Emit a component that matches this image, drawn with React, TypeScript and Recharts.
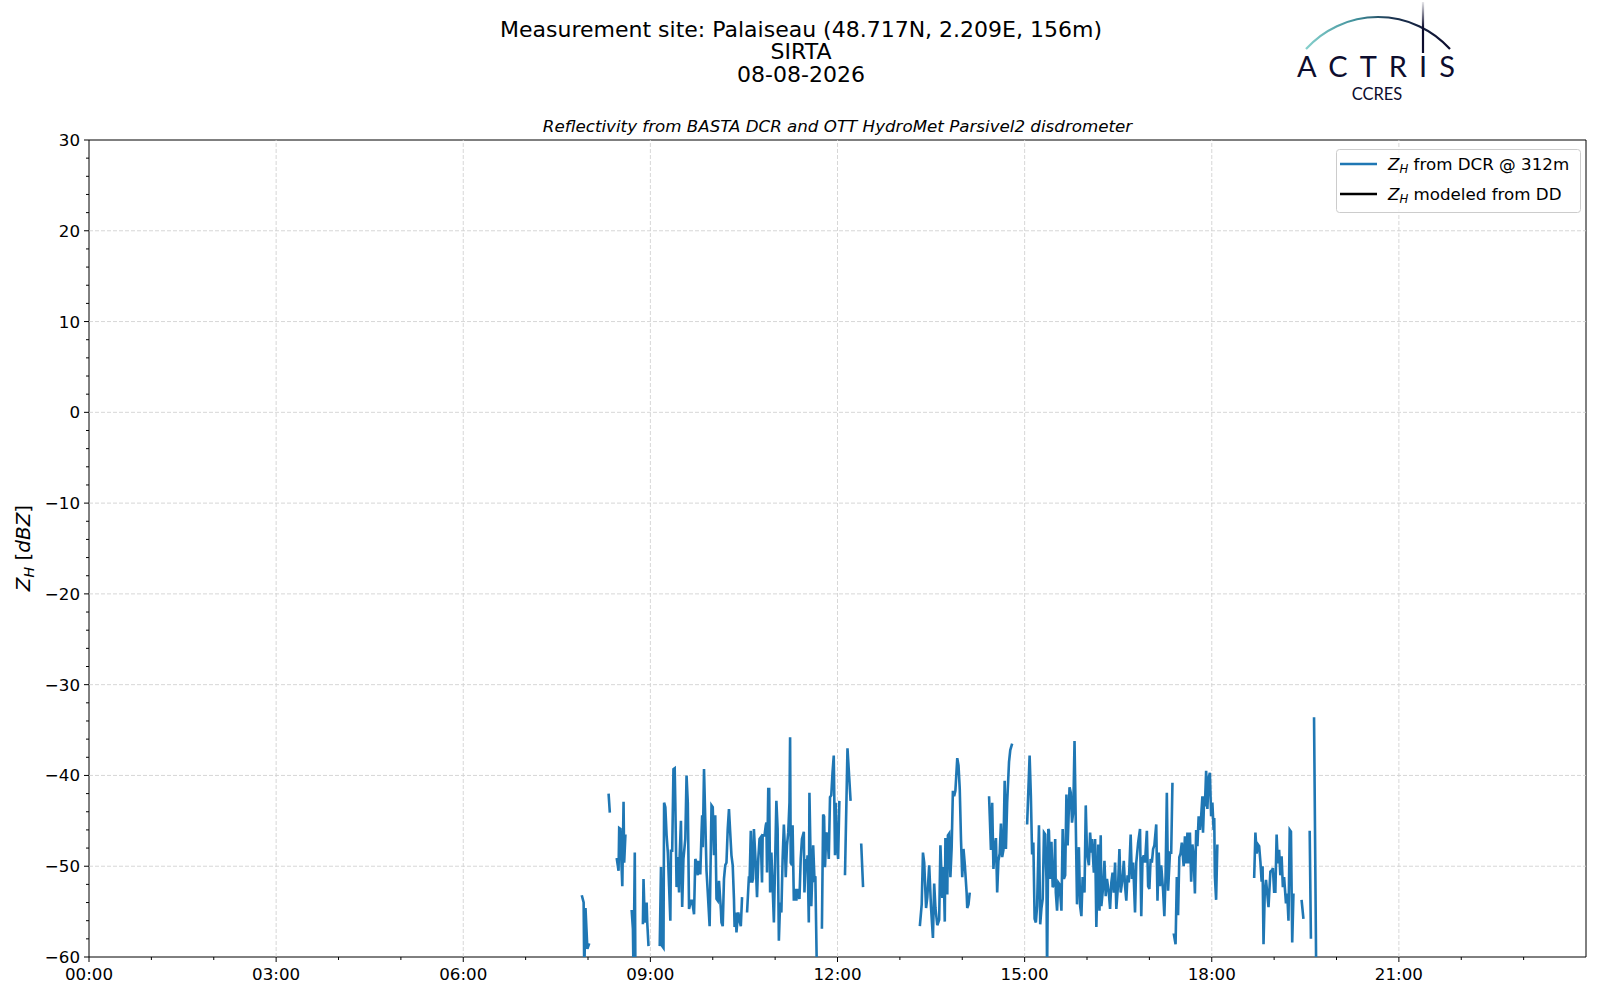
import React from "react";
import { LineChart, Line, XAxis, YAxis, ReferenceLine, ReferenceArea } from "recharts";

// reflectivity at 312 m, [hour of day, dBZ]; each array is one unbroken stretch
type Pt = [number, number];

const seg0754: Pt[] = [[7.90, -53.2], [7.93, -54.0], [7.94, -62], [7.96, -54.6], [7.99, -59.1], [8.02, -58.5]];
const seg0820: Pt[] = [[8.33, -42.0], [8.35, -44.1]];
const seg0828: Pt[] = [
  [8.46, -49.1], [8.49, -50.5], [8.5, -45.8], [8.52, -45.9], [8.53, -48.5], [8.55, -52.2],
  [8.57, -42.9], [8.58, -49.6], [8.6, -46.5],
];
const seg0842: Pt[] = [[8.7, -54.8], [8.72, -56.9], [8.73, -62], [8.75, -48.5], [8.76, -62]];
const seg0852: Pt[] = [[8.88, -56.4], [8.89, -51.4], [8.91, -56.2], [8.94, -54.0], [8.95, -56.2], [8.97, -58.8]];
const seg0909: Pt[] = [
  [9.15, -58.8], [9.17, -50.1], [9.19, -58.8], [9.21, -59.0], [9.22, -43.0], [9.24, -43.5],
  [9.26, -46.6], [9.28, -48.5], [9.3, -52.2], [9.32, -56.0], [9.33, -48.3], [9.35, -48.3],
  [9.37, -39.3], [9.39, -39.2], [9.4, -43.0], [9.42, -52.3], [9.44, -49.0], [9.46, -52.9],
  [9.47, -48.8], [9.49, -45.0], [9.51, -54.5], [9.53, -49.2], [9.56, -47.0], [9.58, -40.0],
  [9.6, -43.0], [9.62, -54.7], [9.65, -53.8], [9.67, -53.8], [9.7, -55.3], [9.72, -49.2],
  [9.74, -49.6], [9.76, -51.0], [9.77, -49.4], [9.8, -50.9], [9.82, -46.3], [9.83, -44.4],
  [9.84, -47.9], [9.86, -39.3], [9.88, -44.8], [9.9, -50.5], [9.92, -52.9], [9.95, -56.6],
  [9.98, -43.3], [10.0, -43.5], [10.02, -48.8], [10.04, -44.4], [10.06, -53.6], [10.08, -53.8],
  [10.1, -51.6], [10.13, -54.7], [10.14, -56.2], [10.16, -56.6], [10.18, -51.4], [10.2, -49.9],
  [10.22, -49.6], [10.24, -45.9], [10.26, -43.7], [10.28, -46.3], [10.3, -48.8], [10.32, -49.9],
  [10.34, -53.6], [10.35, -56.7], [10.37, -55.1], [10.38, -57.3], [10.4, -55.6], [10.41, -55.1],
  [10.43, -56.0], [10.45, -56.6], [10.47, -53.4],
];
const seg1033: Pt[] = [
  [10.55, -55.1], [10.58, -51.1], [10.59, -51.8], [10.61, -46.1], [10.63, -51.8], [10.645, -51.4],
  [10.66, -45.9], [10.69, -49.9], [10.71, -53.4], [10.73, -49.2], [10.75, -47.0], [10.77, -46.8],
  [10.79, -51.8], [10.8, -46.6], [10.83, -46.6], [10.85, -45.5], [10.86, -45.2], [10.87, -50.7],
  [10.89, -41.5], [10.905, -41.5], [10.92, -52.9], [10.94, -48.5], [10.96, -52.2], [10.98, -56.2],
  [11.02, -42.8], [11.04, -45.9], [11.06, -58.2], [11.08, -54.0], [11.1, -55.1], [11.12, -49.2],
  [11.14, -45.4], [11.16, -48.5], [11.17, -51.2], [11.19, -47.7], [11.21, -46.3], [11.23, -43.0],
  [11.24, -35.8], [11.25, -49.6], [11.27, -49.9], [11.28, -45.5], [11.3, -53.8], [11.32, -52.5],
  [11.34, -53.8], [11.36, -52.5], [11.39, -53.6], [11.41, -49.2], [11.43, -47.0], [11.46, -46.2],
  [11.47, -52.9], [11.49, -49.2], [11.51, -49.9], [11.52, -48.8], [11.54, -56.2], [11.55, -41.9],
  [11.57, -49.6], [11.58, -54.4], [11.61, -47.7], [11.63, -51.3], [11.645, -51.1], [11.67, -62],
];
const seg1145: Pt[] = [
  [11.75, -56.9], [11.77, -44.3], [11.785, -44.5], [11.8, -50.1], [11.82, -46.3], [11.84, -46.6],
  [11.86, -49.2], [11.88, -42.4], [11.9, -42.2], [11.92, -39.7], [11.94, -37.8], [11.96, -48.8],
  [11.97, -43.0], [11.99, -47.4], [12.01, -49.2], [12.03, -42.8],
];
const seg1207: Pt[] = [[12.12, -51.0], [12.16, -37.0], [12.18, -39.3], [12.21, -42.8]];
const seg1223: Pt[] = [[12.38, -47.5], [12.41, -52.3]];
const seg1319: Pt[] = [
  [13.32, -56.6], [13.35, -54.2], [13.37, -48.5], [13.39, -49.6], [13.42, -54.6], [13.44, -53.4],
  [13.47, -49.9], [13.5, -54.6], [13.53, -57.9], [13.55, -51.9], [13.57, -54.6], [13.6, -56.5],
  [13.63, -55.9], [13.65, -47.7], [13.68, -53.5], [13.7, -50.1], [13.72, -56.1], [13.73, -46.9],
  [13.76, -53.1], [13.77, -46.6], [13.79, -46.4], [13.81, -51.2], [13.83, -48.0], [13.85, -41.7],
  [13.87, -42.3], [13.89, -41.7], [13.92, -38.1], [13.94, -38.9], [13.96, -41.5], [13.98, -47.1],
  [14.0, -51.2], [14.02, -48.1], [14.04, -49.7], [14.07, -52.9], [14.08, -54.6], [14.1, -54.2],
  [14.12, -52.9],
];
const seg1426: Pt[] = [
  [14.43, -42.3], [14.46, -48.2], [14.48, -43.0], [14.5, -50.3], [14.52, -48.0], [14.54, -46.9],
  [14.56, -52.9], [14.58, -49.4], [14.6, -48.6], [14.62, -45.3], [14.64, -49.0], [14.66, -48.2],
  [14.68, -40.6], [14.7, -48.1], [14.72, -43.0], [14.75, -38.5], [14.77, -37.2], [14.8, -36.5],
];
const seg1502: Pt[] = [
  [15.04, -45.4], [15.08, -37.8], [15.1, -42.2], [15.12, -48.7], [15.14, -47.4], [15.16, -55.8],
  [15.18, -56.2], [15.2, -54.4], [15.23, -45.5], [15.25, -56.4], [15.27, -54.6], [15.29, -53.6],
  [15.31, -46.3], [15.33, -46.5], [15.35, -51.5], [15.36, -62], [15.38, -45.9], [15.39, -46.1],
  [15.41, -51.4], [15.43, -47.3], [15.45, -52.3], [15.47, -52.0], [15.49, -47.0], [15.5, -52.9],
  [15.52, -54.9], [15.54, -51.8], [15.56, -52.0], [15.59, -54.9], [15.61, -45.9], [15.63, -51.4],
  [15.65, -51.0], [15.67, -42.1], [15.69, -47.7], [15.72, -41.3], [15.74, -41.9], [15.76, -45.2],
  [15.78, -44.0], [15.8, -36.2], [15.82, -45.2], [15.84, -54.2], [15.87, -47.9], [15.89, -54.4],
  [15.91, -55.5], [15.93, -51.2], [15.96, -52.9], [15.98, -43.3], [16.0, -48.5], [16.03, -49.9],
  [16.05, -46.3], [16.07, -48.5], [16.08, -47.0], [16.11, -50.7], [16.13, -47.0], [16.15, -56.7],
  [16.18, -47.6], [16.2, -54.9], [16.22, -46.6], [16.23, -54.4], [16.26, -52.2], [16.28, -49.4],
  [16.3, -53.3], [16.32, -51.4], [16.35, -52.9], [16.37, -54.7], [16.39, -51.8], [16.41, -50.7],
  [16.43, -52.9], [16.45, -49.6], [16.47, -54.7], [16.5, -51.8], [16.52, -48.1], [16.54, -52.9],
  [16.57, -51.4], [16.59, -49.4], [16.61, -52.2], [16.63, -53.8], [16.65, -51.0], [16.67, -51.8],
  [16.7, -46.5], [16.72, -51.4], [16.74, -49.6], [16.77, -55.1], [16.79, -49.6], [16.82, -47.4],
  [16.85, -45.9], [16.87, -55.5], [16.89, -49.2], [16.91, -48.8], [16.93, -49.6], [16.96, -46.1],
  [16.98, -52.2], [17.0, -52.5], [17.02, -49.2], [17.04, -49.6], [17.06, -48.1], [17.08, -47.7],
  [17.11, -45.4], [17.13, -53.8], [17.15, -48.5], [17.17, -52.2], [17.19, -49.9], [17.22, -52.7],
  [17.24, -55.5], [17.26, -51.0], [17.28, -41.9], [17.3, -52.7], [17.33, -48.5], [17.35, -48.5],
  [17.37, -40.8],
];
const seg1723: Pt[] = [
  [17.39, -57.4], [17.42, -58.6], [17.44, -51.2], [17.46, -55.4], [17.48, -49.0], [17.5, -48.6],
  [17.52, -47.4], [17.55, -50.0], [17.57, -46.7], [17.59, -49.7], [17.61, -46.3], [17.63, -49.7],
  [17.65, -46.3], [17.67, -51.7], [17.69, -47.6], [17.71, -48.9], [17.73, -53.0], [17.75, -46.0],
  [17.77, -47.8], [17.79, -44.5], [17.81, -46.0], [17.83, -44.5], [17.85, -42.3], [17.86, -46.3],
  [17.88, -42.3], [17.89, -43.4], [17.91, -39.5], [17.93, -43.7], [17.95, -40.3], [17.97, -39.7],
  [17.99, -44.5], [18.01, -43.0], [18.03, -46.0], [18.04, -44.7], [18.05, -51.1], [18.07, -53.7],
  [18.09, -47.6],
];
const seg1841: Pt[] = [
  [18.68, -51.3], [18.7, -46.3], [18.72, -48.6], [18.74, -47.6], [18.76, -47.8], [18.78, -49.5],
  [18.8, -51.7], [18.815, -50.0], [18.83, -58.6], [18.85, -52.8], [18.87, -51.5], [18.91, -54.5],
  [18.94, -50.6], [18.97, -50.4], [18.98, -50.2], [19.0, -52.8], [19.02, -52.8], [19.04, -46.5],
  [19.06, -49.7], [19.08, -48.2], [19.1, -51.0], [19.12, -48.9], [19.14, -52.3], [19.16, -51.2],
  [19.19, -54.1], [19.21, -53.0], [19.23, -56.0], [19.25, -46.0], [19.27, -46.2], [19.29, -58.4],
  [19.31, -53.0],
];
const seg1926: Pt[] = [[19.44, -53.7], [19.47, -55.8]];
const seg1934: Pt[] = [[19.57, -46.1], [19.59, -58.0]];
const seg1938: Pt[] = [[19.64, -33.6], [19.675, -62]];

const segments: Pt[][] = [
  seg0754, seg0820, seg0828, seg0842, seg0852, seg0909, seg1033, seg1145, seg1207, seg1223,
  seg1319, seg1426, seg1502, seg1723, seg1841, seg1926, seg1934, seg1938,
];

const hourTicks = [0, 1, 2, 3, 4, 5, 6, 7, 8, 9, 10, 11, 12, 13, 14, 15, 16, 17, 18, 19, 20, 21, 22, 23];
const majorHours = [0, 3, 6, 9, 12, 15, 18, 21];
const hourLabels = ["00:00", "03:00", "06:00", "09:00", "12:00", "15:00", "18:00", "21:00"];
const zTicks = [
  -60, -58, -56, -54, -52, -50, -48, -46, -44, -42, -40, -38, -36, -34, -32, -30, -28, -26, -24,
  -22, -20, -18, -16, -14, -12, -10, -8, -6, -4, -2, 0, 2, 4, 6, 8, 10, 12, 14, 16, 18, 20, 22,
  24, 26, 28, 30,
];
const majorZ = [-60, -50, -40, -30, -20, -10, 0, 10, 20, 30];

// gaps between stretches become null rows so the line breaks
const data = segments.flatMap((seg) => [
  ...seg.map(([t, zh]) => ({ t, zh })),
  { t: seg[seg.length - 1][0] + 0.001, zh: null as number | null },
]);

const FONT = "'DejaVu Sans', sans-serif";
const LOGO_FONT = "Lato, sans-serif";
const BLUE = "#1f77b4";
const GRID = "#d2d2d2";

function fmtZ(v: number) {
  return v < 0 ? "\u2212" + Math.abs(v) : String(v);
}

function HourTick(props: any) {
  const { x, y, payload } = props;
  const i = majorHours.indexOf(payload.value);
  return (
    <g>
      <line x1={x} x2={x} y1={y} y2={y + (i >= 0 ? 5 : 3)} stroke="#000" strokeWidth={1} />
      {i >= 0 && (
        <text x={x} y={y + 23} textAnchor="middle" fontSize={16.7} fontFamily={FONT} fill="#000">
          {hourLabels[i]}
        </text>
      )}
    </g>
  );
}

function ZTick(props: any) {
  const { x, y, payload } = props;
  const major = majorZ.includes(payload.value);
  return (
    <g>
      <line x1={x - (major ? 5 : 3)} x2={x} y1={y} y2={y} stroke="#000" strokeWidth={1} />
      {major && (
        <text x={x - 9} y={y + 6} textAnchor="end" fontSize={16.7} fontFamily={FONT} fill="#000">
          {fmtZ(payload.value)}
        </text>
      )}
    </g>
  );
}

function ZH({ size }: { size: number }) {
  return (
    <>
      <tspan fontStyle="italic">Z</tspan>
      <tspan fontStyle="italic" fontSize={size * 0.7} dy={size * 0.2}>H</tspan>
      <tspan dy={-size * 0.2}> </tspan>
    </>
  );
}

function Overlay() {
  return (
    <svg
      width={1600}
      height={1000}
      style={{ position: "absolute", left: 0, top: 0, pointerEvents: "none" }}
      fontFamily={FONT}
    >
      <defs>
        <linearGradient id="arc" x1="1306" y1="0" x2="1450" y2="0" gradientUnits="userSpaceOnUse">
          <stop offset="0" stopColor="#86d0cc" />
          <stop offset="0.35" stopColor="#3f8f9a" />
          <stop offset="0.6" stopColor="#1b3350" />
          <stop offset="1" stopColor="#0d0d2e" />
        </linearGradient>
        <linearGradient id="mast" x1="0" y1="2" x2="0" y2="53" gradientUnits="userSpaceOnUse">
          <stop offset="0" stopColor="#0d0d2e" stopOpacity="0.1" />
          <stop offset="0.5" stopColor="#0d0d2e" />
          <stop offset="1" stopColor="#0d0d2e" />
        </linearGradient>
      </defs>

      <g fontSize={22} textAnchor="middle" fill="#000">
        <text x={801} y={36.5}>Measurement site: Palaiseau (48.717N, 2.209E, 156m)</text>
        <text x={801} y={59}>SIRTA</text>
        <text x={801} y={82}>08-08-2026</text>
      </g>
      <text x={837.5} y={132} fontSize={16.7} fontStyle="italic" textAnchor="middle" fill="#000">
        Reflectivity from BASTA DCR and OTT HydroMet Parsivel2 disdrometer
      </text>

      <text
        transform="translate(30,548) rotate(-90)"
        fontSize={20}
        textAnchor="middle"
        fill="#000"
      >
        <ZH size={20} />
        <tspan>[</tspan>
        <tspan fontStyle="italic">dBZ</tspan>
        <tspan>]</tspan>
      </text>

      <path d="M1306 49 A97 97 0 0 1 1450 49" fill="none" stroke="url(#arc)" strokeWidth={2.2} />
      <line x1={1423} x2={1423} y1={2} y2={53} stroke="url(#mast)" strokeWidth={2.2} />
      <text
        x={1297}
        y={77}
        fontSize={29}
        fontFamily={LOGO_FONT}
        fill="#0d0d2e"
        textLength={158}
        lengthAdjust="spacing"
      >
        ACTRIS
      </text>
      <text x={1377} y={100} fontSize={16.5} fontFamily={LOGO_FONT} fill="#0d0d2e" textAnchor="middle">
        CCRES
      </text>

      <rect x={1336.5} y={149.5} width={244} height={63} rx={3} fill="#fff" fillOpacity={0.8} stroke="#cccccc" />
      <line x1={1340} x2={1377} y1={164} y2={164} stroke={BLUE} strokeWidth={2.6} />
      <line x1={1340} x2={1377} y1={194} y2={194} stroke="#000" strokeWidth={2.6} />
      <text x={1388} y={170} fontSize={16.7} fill="#000">
        <ZH size={16.7} />
        <tspan>from DCR @ 312m</tspan>
      </text>
      <text x={1388} y={200} fontSize={16.7} fill="#000">
        <ZH size={16.7} />
        <tspan>modeled from DD</tspan>
      </text>
    </svg>
  );
}

export default function App() {
  return (
    <div style={{ position: "absolute", left: 0, top: 0, width: 1600, height: 1000, background: "#fff" }}>
      <LineChart
        width={1600}
        height={1000}
        data={data}
        margin={{ top: 140, right: 14, bottom: 13, left: 39 }}
        style={{ fontFamily: FONT }}
      >
        <XAxis
          dataKey="t"
          type="number"
          domain={[0, 24]}
          ticks={hourTicks}
          interval={0}
          height={30}
          axisLine={false}
          tickLine={false}
          tickSize={0}
          tickMargin={0}
          tick={<HourTick />}
        />
        <YAxis
          type="number"
          domain={[-60, 30]}
          allowDataOverflow
          ticks={zTicks}
          interval={0}
          width={50}
          axisLine={false}
          tickLine={false}
          tickSize={0}
          tickMargin={0}
          tick={<ZTick />}
        />
        {majorHours.slice(1).map((h) => (
          <ReferenceLine key={"v" + h} x={h} stroke={GRID} strokeWidth={0.9} strokeDasharray="4 2" />
        ))}
        {majorZ.slice(1, -1).map((z) => (
          <ReferenceLine key={"h" + z} y={z} stroke={GRID} strokeWidth={0.9} strokeDasharray="4 2" />
        ))}
        <Line
          dataKey="zh"
          type="linear"
          stroke={BLUE}
          strokeWidth={2.6}
          dot={false}
          activeDot={false}
          connectNulls={false}
          isAnimationActive={false}
        />
        <ReferenceArea x1={0} x2={24} y1={-60} y2={30} fill="none" stroke="#000" strokeWidth={1} />
      </LineChart>
      <Overlay />
    </div>
  );
}
